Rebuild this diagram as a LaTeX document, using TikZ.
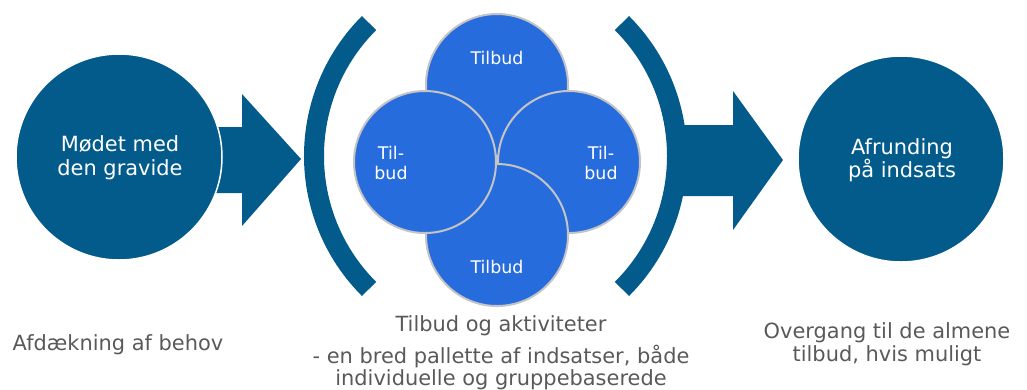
\documentclass[tikz,border=0pt]{standalone}
\usepackage{fontspec}
\setmainfont{DejaVu Sans}
\definecolor{dkblue}{HTML}{035B8C}
\definecolor{brblue}{HTML}{276CDD}
\definecolor{txtgray}{HTML}{595959}
\definecolor{ringgray}{HTML}{C4C4C4}
\begin{document}
\begin{tikzpicture}[x=1bp,y=-1bp,
 bigcirc/.style={circle,fill=dkblue,draw=white,line width=1.5bp,minimum size=206bp,inner sep=0pt},
 smallcirc/.style={circle,fill=brblue,draw=ringgray,line width=2bp,minimum size=142bp,inner sep=0pt},
 bigtxt/.style={text=white,font=\fontsize{21}{24}\selectfont,anchor=base,inner sep=0pt},
 smalltxt/.style={text=white,font=\fontsize{17.5}{20}\selectfont,anchor=base,inner sep=0pt},
 captxt/.style={text=txtgray,font=\fontsize{21}{22}\selectfont,anchor=base,inner sep=0pt},
 parenarc/.style={draw=dkblue,line width=20bp,line cap=butt},
 blockarrow/.style={fill=dkblue}]
\useasboundingbox (0,0) rectangle (1027,389);
% block arrows
\fill[blockarrow] (200,127) -- (242,127) -- (242,94) -- (301,159) -- (242,226) -- (242,193) -- (200,193) -- cycle;
\fill[blockarrow] (674,125) -- (733,125) -- (733,91) -- (783,160) -- (733,230) -- (733,196) -- (674,196) -- cycle;
% brackets
\coordinate (lc) at (502,156);
\coordinate (rc) at (489,156);
\draw[parenarc] ([shift={(135:188bp)}]lc) arc[start angle=135,end angle=225,radius=188bp];
\draw[parenarc] ([shift={(45:188bp)}]rc) arc[start angle=45,end angle=-45,radius=188bp];
% big circles
\node[bigcirc] (c1) at (119,157) {};
\node[bigcirc] (c3) at (901,159) {};
% small circles
\node[smallcirc] (ct) at (497,85) {};
\node[smallcirc] (cr) at (569,162) {};
\node[smallcirc] (cb) at (497,235) {};
\node[smallcirc] (cl) at (425,162) {};
% circle texts
\node[bigtxt] (t1a) at (120,151) {Mødet med};
\node[bigtxt] (t1b) at (120,175) {den gravide};
\node[bigtxt] (t3a) at (902,154) {Afrunding};
\node[bigtxt] (t3b) at (902,177) {på indsats};
\node[smalltxt] (tt) at (497,64) {Tilbud};
\node[smalltxt] (tb) at (497,273) {Tilbud};
\node[smalltxt] (tla) at (391,159) {Til-};
\node[smalltxt] (tlb) at (391,179) {bud};
\node[smalltxt] (tra) at (601,159) {Til-};
\node[smalltxt] (trb) at (601,179) {bud};
% captions
\node[captxt] (k1) at (118,350) {Afdækning af behov};
\node[captxt] (k2a) at (501,331) {Tilbud og aktiviteter};
\node[captxt] (k2b) at (501,363) {- en bred pallette af indsatser, både};
\node[captxt] (k2c) at (501,385) {individuelle og gruppebaserede};
\node[captxt] (k3a) at (887,338) {Overgang til de almene};
\node[captxt] (k3b) at (887,361) {tilbud, hvis muligt};
\end{tikzpicture}
\end{document}
